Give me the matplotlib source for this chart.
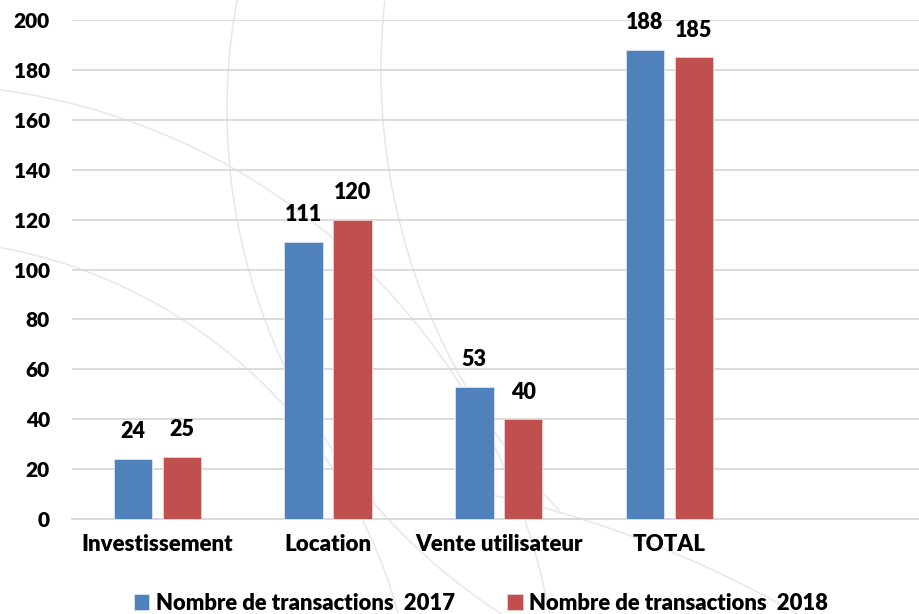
import numpy as np
import matplotlib.pyplot as plt

plt.rcParams["font.family"] = ["Lato", "DejaVu Sans"]
plt.rcParams["font.weight"] = "heavy"

# -- data --
categories = ["Investissement", "Location", "Vente utilisateur", "TOTAL"]
values_2017 = [24, 111, 53, 188]
values_2018 = [25, 120, 40, 185]
series_labels = ["Nombre de transactions  2017", "Nombre de transactions  2018"]
yticks = np.arange(0, 201, 20)

blue = "#4f81bd"
red = "#c0504d"

W, H = 920, 614
fig = plt.figure(figsize=(W / 100, H / 100), dpi=100)

# -- faint watermark arcs in the background (pixel coords) --
bg = fig.add_axes([0, 0, 1, 1], zorder=0)
bg.set_xlim(0, W)
bg.set_ylim(H, 0)
bg.axis("off")
# (centre, radius, x window)
arcs = [((827, 110), 600, (0, 520)),
        ((1014, 70), 633, (0, 560)),
        ((-86, 730), 646, (0, 560)),
        ((-92, 747), 508, (0, 420)),
        ((257, 1548), 1079, (480, 920))]
t = np.linspace(0, 2 * np.pi, 2000)
for (cx, cy), r, (xa, xb) in arcs:
    px = cx + r * np.cos(t)
    py = cy + r * np.sin(t)
    keep = (px >= xa) & (px <= xb) & (py >= 0) & (py <= H)
    px = np.where(keep, px, np.nan)
    bg.plot(px, py, color="#e4e7ed", lw=1.1)

# -- main axes --
x0, y_top, y_bot = 72, 20, 519
slot = 170.7
ax = fig.add_axes([x0 / W, 1 - y_bot / H, 5 * slot / W, (y_bot - y_top) / H], zorder=1)
ax.patch.set_alpha(0)

x = np.arange(len(categories))
bw = 0.2255
off = 0.143
b1 = ax.bar(x - off, values_2017, bw, color=blue, edgecolor="#dbe4f0", linewidth=0.6,
            label=series_labels[0], zorder=3)
b2 = ax.bar(x + off, values_2018, bw, color=red, edgecolor="#eccfce", linewidth=0.6,
            label=series_labels[1], zorder=3)

for bars in (b1, b2):
    for rect in bars:
        ax.annotate(f"{int(rect.get_height())}",
                    (rect.get_x() + rect.get_width() / 2, rect.get_height()),
                    xytext=(0, 12), textcoords="offset points",
                    ha="center", va="bottom", fontsize=15.5, fontweight="heavy")

ax.set_xlim(-0.5, 4.5)
ax.set_ylim(0, 200)
ax.set_yticks(yticks)
ax.set_xticks(x)
ax.set_xticklabels(categories)
ax.tick_params(axis="y", length=0, pad=16, labelsize=15)
ax.tick_params(axis="x", length=0, pad=11, labelsize=16)
ax.yaxis.grid(True, color="#d9d9d9", linewidth=1.3, zorder=0)
ax.set_axisbelow(True)
for s in ["top", "right", "left"]:
    ax.spines[s].set_visible(False)
ax.spines["bottom"].set_color("#d9d9d9")
ax.spines["bottom"].set_linewidth(1.3)

fig.legend(handles=[b1, b2], labels=series_labels, loc="center",
           bbox_to_anchor=(481 / W, 1 - 603 / H), ncol=2, frameon=False,
           fontsize=15.8, handlelength=0.7, handleheight=0.7, handletextpad=0.3,
           columnspacing=2.4)

fig.savefig("out.png", dpi=100)
